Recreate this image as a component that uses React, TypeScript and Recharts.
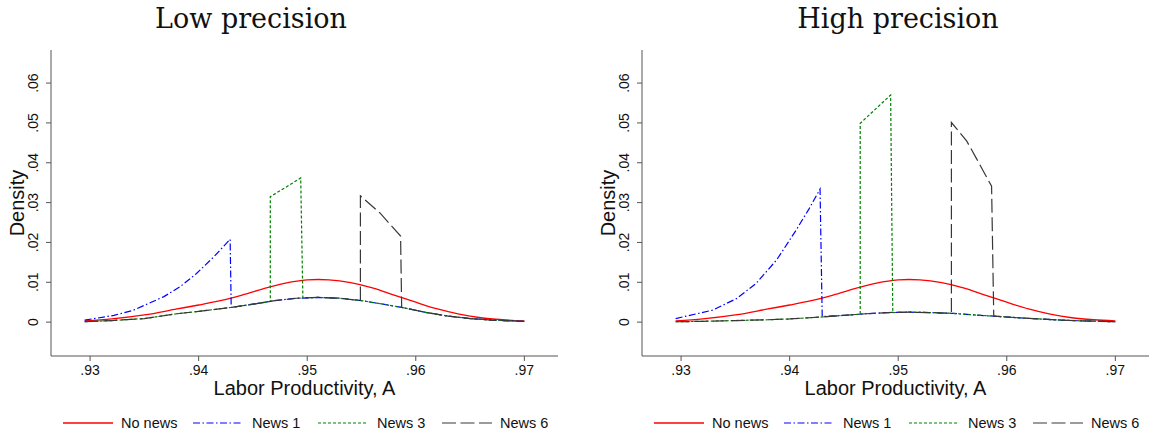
import React from "react";
import { LineChart, Line, XAxis, YAxis } from "recharts";

type Pt = [number, number];

const xTicks = [0.93, 0.94, 0.95, 0.96, 0.97];
const xTickLabels = [".93", ".94", ".95", ".96", ".97"];
const yTicks = [0, 0.01, 0.02, 0.03, 0.04, 0.05, 0.06];
const yTickLabels = ["0", ".01", ".02", ".03", ".04", ".05", ".06"];
const seriesNames = ["No news", "News 1", "News 3", "News 6"];

// same "No news" density in both panels
const noNews: Pt[] = [
  [0.9295, 0.0003], [0.932, 0.0008], [0.935, 0.0018], [0.938, 0.0033], [0.94, 0.0043],
  [0.942, 0.0054], [0.944, 0.0068], [0.946, 0.0084], [0.948, 0.0098], [0.95, 0.0106],
  [0.951, 0.0107], [0.952, 0.0106], [0.954, 0.0099], [0.956, 0.0086], [0.958, 0.0068],
  [0.96, 0.005], [0.962, 0.0033], [0.964, 0.002], [0.966, 0.0011], [0.968, 0.0006], [0.97, 0.0003],
];

// low precision
const lowNews1: Pt[] = [
  [0.9295, 0.0005], [0.9322, 0.0017], [0.934, 0.003], [0.9368, 0.0064], [0.9383, 0.0089],
  [0.9398, 0.0122], [0.9414, 0.0164], [0.9429, 0.0208], [0.943, 0.0037], [0.945, 0.0045],
  [0.947, 0.0054], [0.949, 0.006], [0.951, 0.0062], [0.953, 0.006], [0.955, 0.0054],
  [0.957, 0.0045], [0.9587, 0.0037], [0.961, 0.0024], [0.963, 0.0015], [0.965, 0.0009],
  [0.967, 0.0005], [0.97, 0.0002],
];
const lowNews3: Pt[] = [
  [0.9295, 0.0001], [0.932, 0.0004], [0.935, 0.0009], [0.938, 0.0021], [0.94, 0.0027],
  [0.943, 0.0037], [0.945, 0.0045], [0.9466, 0.0052], [0.9466, 0.0315], [0.948, 0.0338],
  [0.9494, 0.0362], [0.9496, 0.0061], [0.951, 0.0062], [0.953, 0.006], [0.955, 0.0054],
  [0.957, 0.0045], [0.9587, 0.0037], [0.961, 0.0024], [0.963, 0.0015], [0.965, 0.0009],
  [0.967, 0.0005], [0.97, 0.0002],
];
const lowNews6: Pt[] = [
  [0.9295, 0.0001], [0.932, 0.0004], [0.935, 0.0009], [0.938, 0.0021], [0.94, 0.0027],
  [0.943, 0.0037], [0.945, 0.0045], [0.947, 0.0054], [0.949, 0.006], [0.951, 0.0062],
  [0.953, 0.006], [0.9549, 0.0054], [0.9549, 0.0317], [0.9567, 0.0274], [0.9586, 0.0216],
  [0.9587, 0.0037], [0.961, 0.0024], [0.963, 0.0015], [0.965, 0.0009], [0.967, 0.0005],
  [0.97, 0.0002],
];

// high precision
const highNews1: Pt[] = [
  [0.9295, 0.0009], [0.9329, 0.003], [0.9351, 0.0059], [0.9369, 0.0097], [0.9388, 0.0156],
  [0.9406, 0.0231], [0.9418, 0.0285], [0.9428, 0.0334], [0.943, 0.0014], [0.945, 0.0017],
  [0.947, 0.0021], [0.949, 0.0024], [0.951, 0.0025], [0.953, 0.0024], [0.955, 0.0022],
  [0.957, 0.0018], [0.9588, 0.0015], [0.961, 0.0011], [0.963, 0.0008], [0.965, 0.0005],
  [0.967, 0.0003], [0.97, 0.0001],
];
const highNews3: Pt[] = [
  [0.9295, 0.0001], [0.932, 0.0002], [0.935, 0.0004], [0.938, 0.0006], [0.94, 0.0008],
  [0.943, 0.0013], [0.945, 0.0017], [0.9465, 0.002], [0.9465, 0.0499], [0.948, 0.0537],
  [0.9493, 0.057], [0.9495, 0.0024], [0.951, 0.0025], [0.953, 0.0024], [0.955, 0.0022],
  [0.957, 0.0018], [0.9588, 0.0015], [0.961, 0.0011], [0.963, 0.0008], [0.965, 0.0005],
  [0.967, 0.0003], [0.97, 0.0001],
];
const highNews6: Pt[] = [
  [0.9295, 0.0001], [0.932, 0.0002], [0.935, 0.0004], [0.938, 0.0006], [0.94, 0.0008],
  [0.943, 0.0013], [0.945, 0.0017], [0.947, 0.0021], [0.949, 0.0024], [0.951, 0.0025],
  [0.953, 0.0024], [0.9549, 0.0022], [0.9549, 0.0501], [0.9563, 0.0455], [0.9572, 0.0411],
  [0.9586, 0.0341], [0.9588, 0.0015], [0.961, 0.0011], [0.963, 0.0008], [0.965, 0.0005],
  [0.967, 0.0003], [0.97, 0.0001],
];

const SANS = '"Liberation Sans", Arial, Helvetica, sans-serif';
const SERIF = '"DejaVu Serif", serif';

const styles = [
  { color: "#ff0000", dash: undefined as string | undefined, width: 1.3 },
  { color: "#0000ff", dash: "7 2.5 1.5 2.5", width: 1.2 },
  { color: "#008000", dash: "3 2", width: 1.2 },
  { color: "#383838", dash: "14 4.5", width: 1.2 },
];

const toRows = (pts: Pt[]) => pts.map(([x, y]) => ({ x, y }));

const YTick = (props: any) => {
  const { y, payload } = props;
  const i = yTicks.findIndex((t) => Math.abs(t - payload.value) < 1e-9);
  return (
    <text x={38} y={y} transform={`rotate(-90 38 ${y})`} textAnchor="middle" fontSize={14} fontFamily={SANS} fill="#111">
      {yTickLabels[i]}
    </text>
  );
};

const XTitle = () => (
  <text x={304.5} y={395} textAnchor="middle" fontSize={20} fontFamily={SANS} fill="#111">
    Labor Productivity, A
  </text>
);

const YTitle = () => (
  <text x={24} y={203} transform="rotate(-90 24 203)" textAnchor="middle" fontSize={20} fontFamily={SANS} fill="#111">
    Density
  </text>
);

const fmtX = (v: number) => {
  const i = xTicks.findIndex((t) => Math.abs(t - v) < 1e-9);
  return i >= 0 ? xTickLabels[i] : "";
};

const legendLineX = [63, 193, 318, 442];
const legendTextX = [121, 252, 377, 500];

const Panel = ({ title, titleX, width, series }: { title: string; titleX: number; width: number; series: Pt[][] }) => (
  <div style={{ position: "relative", width, height: 436 }}>
    <LineChart width={width} height={436} margin={{ top: 50, right: width - 558, bottom: 50, left: 11 }}>
      <XAxis
        type="number"
        dataKey="x"
        domain={[0.9264, 0.9731]}
        allowDataOverflow
        ticks={xTicks}
        tickFormatter={fmtX}
        tickSize={5}
        tickMargin={4}
        height={30}
        stroke="#555"
        tick={{ fontSize: 14, fill: "#111", fontFamily: SANS }}
        label={<XTitle />}
      />
      <YAxis
        type="number"
        domain={[-0.0085, 0.0683]}
        allowDataOverflow
        ticks={yTicks}
        tick={<YTick />}
        tickSize={5}
        width={40}
        stroke="#555"
        label={<YTitle />}
      />
      {series.map((pts, i) => (
        <Line
          key={seriesNames[i]}
          data={toRows(pts)}
          dataKey="y"
          name={seriesNames[i]}
          type={i === 0 ? "monotone" : "linear"}
          stroke={styles[i].color}
          strokeWidth={styles[i].width}
          strokeDasharray={styles[i].dash}
          dot={false}
          activeDot={false}
          isAnimationActive={false}
        />
      ))}
    </LineChart>
    <svg width={width} height={436} style={{ position: "absolute", left: 0, top: 0, pointerEvents: "none" }}>
      <text x={titleX} y={28} textAnchor="middle" fontSize={27} fontFamily={SERIF} fill="#111">
        {title}
      </text>
      {seriesNames.map((name, i) => (
        <g key={name}>
          <line
            x1={legendLineX[i]}
            x2={legendLineX[i] + 50}
            y1={423}
            y2={423}
            stroke={styles[i].color}
            strokeWidth={styles[i].width}
            strokeDasharray={styles[i].dash}
          />
          <text x={legendTextX[i]} y={428} fontSize={14.5} fontFamily={SANS} fill="#111">
            {name}
          </text>
        </g>
      ))}
    </svg>
  </div>
);

export default function App() {
  return (
    <div style={{ position: "absolute", left: 0, top: 0, width: 1151, height: 436, background: "#fff", overflow: "hidden" }}>
      <div style={{ position: "absolute", left: 0, top: 0 }}>
        <Panel title="Low precision" titleX={251} width={575} series={[noNews, lowNews1, lowNews3, lowNews6]} />
      </div>
      <div style={{ position: "absolute", left: 591, top: 0 }}>
        <Panel title="High precision" titleX={307} width={560} series={[noNews, highNews1, highNews3, highNews6]} />
      </div>
    </div>
  );
}
